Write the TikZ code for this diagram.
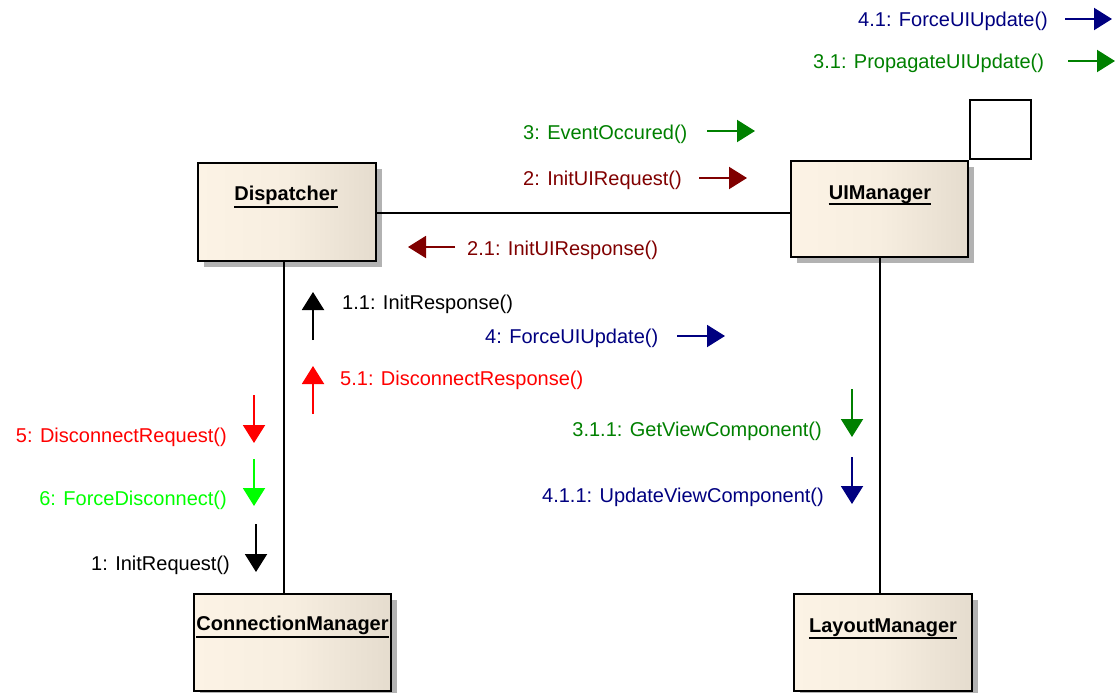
\documentclass[tikz,border=0pt]{standalone}
\usepackage{fontspec}
\setmainfont{Liberation Sans}
\usetikzlibrary{arrows.meta,shadows}

\definecolor{boxL}{RGB}{252,243,229}
\definecolor{boxM}{RGB}{247,238,224}
\definecolor{boxR}{RGB}{229,220,206}
\definecolor{msgGreen}{RGB}{0,128,0}
\definecolor{msgMaroon}{RGB}{128,0,0}
\definecolor{msgNavy}{RGB}{0,0,128}
\definecolor{msgRed}{RGB}{255,0,0}
\definecolor{msgLime}{RGB}{0,255,0}

\tikzset{
  objbox/.style={draw=black, line width=2.2pt, rectangle, inner sep=0pt,
    left color=boxL, right color=boxR, middle color=boxM,
    drop shadow={shadow xshift=6pt, shadow yshift=-6pt, fill=black!30, opacity=1}},
  objname/.style={font=\fontsize{20}{24}\selectfont\bfseries, inner sep=0pt, anchor=base},
  uline/.style={line width=1.6pt},
  lifeline/.style={line width=2pt},
  msgtext/.style={font=\fontsize{20}{24}\selectfont, inner sep=0pt, yshift=-2pt},
  msg/.style={line width=2pt, -{Triangle[length=18pt,width=22pt]}},
}

\begin{document}
\begin{tikzpicture}[x=1pt,y=-1pt]
\useasboundingbox (0,0) rectangle (1120,693);

% objects
\node[objbox, minimum width=178pt, minimum height=98pt] (disp) at (287,212) {};
\node[objbox, minimum width=177pt, minimum height=96pt] (uim) at (879.5,209) {};
\node[draw=black, line width=2pt, minimum width=61pt, minimum height=59pt,
      inner sep=0pt, anchor=south west, fill=white] (corner) at (uim.north east) {};
\node[objbox, minimum width=197pt, minimum height=97pt] (conn) at (292.5,642.5) {};
\node[objbox, minimum width=178pt, minimum height=97pt] (lay) at (883,642.5) {};

% object names, underlined
\node[objname] (dispT) at (286,200) {Dispatcher};
\draw[uline] ([yshift=-7pt]dispT.base west) -- ([yshift=-7pt]dispT.base east);
\node[objname] (uimT) at (880,199) {UIManager};
\draw[uline] ([yshift=-5pt]uimT.base west) -- ([yshift=-5pt]uimT.base east);
\node[objname] (connT) at (292.5,630) {ConnectionManager};
\draw[uline] ([yshift=-7pt]connT.base west) -- ([yshift=-7pt]connT.base east);
\node[objname] (layT) at (883,632) {LayoutManager};
\draw[uline] ([yshift=-6pt]layT.base west) -- ([yshift=-6pt]layT.base east);

% links between objects
\draw[lifeline] (disp.east |- 0,213) -- (uim.west |- 0,213);
\draw[lifeline] (disp.south -| 284,0) -- (conn.north -| 284,0);
\draw[lifeline] (uim.south -| 880,0) -- (lay.north -| 880,0);

% messages along the Dispatcher -- UIManager link
\node[msgtext, text=msgNavy, anchor=west] (m41) at (858,19) {4.1: ForceUIUpdate()};
\draw[msg, msgNavy] (1065,19) -- (1112,19);
\node[msgtext, text=msgGreen, anchor=west] (m31) at (813,61) {3.1: PropagateUIUpdate()};
\draw[msg, msgGreen] (1068,61) -- (1115,61);
\node[msgtext, text=msgGreen, anchor=west] (m3) at (523,132) {3: EventOccured()};
\draw[msg, msgGreen] (707,131) -- (755,131);
\node[msgtext, text=msgMaroon, anchor=west] (m2) at (523,178) {2: InitUIRequest()};
\draw[msg, msgMaroon] (699,178) -- (747,178);
\node[msgtext, text=msgMaroon, anchor=west] (m21) at (467,248) {2.1: InitUIResponse()};
\draw[msg, msgMaroon] (455,247) -- (408,247);
\node[msgtext, text=msgNavy, anchor=west] (m4) at (485,336) {4: ForceUIUpdate()};
\draw[msg, msgNavy] (677,336) -- (725,336);

% messages along the Dispatcher -- ConnectionManager link
\node[msgtext, text=black, anchor=west] (m11) at (342,302) {1.1: InitResponse()};
\draw[msg, black] (313,340) -- (313,292);
\node[msgtext, text=msgRed, anchor=west] (m51) at (340,378) {5.1: DisconnectResponse()};
\draw[msg, msgRed] (313,414) -- (313,366);
\node[msgtext, text=msgRed, anchor=east] (m5) at (227,435) {5: DisconnectRequest()};
\draw[msg, msgRed] (254,395) -- (254,443);
\node[msgtext, text=msgLime, anchor=east] (m6) at (227,498) {6: ForceDisconnect()};
\draw[msg, msgLime] (254,459) -- (254,506);
\node[msgtext, text=black, anchor=east] (m1) at (230,563) {1: InitRequest()};
\draw[msg, black] (256,524) -- (256,572);

% messages along the UIManager -- LayoutManager link
\node[msgtext, text=msgGreen, anchor=east] (m311) at (822,429) {3.1.1: GetViewComponent()};
\draw[msg, msgGreen] (852,389) -- (852,437);
\node[msgtext, text=msgNavy, anchor=east] (m411) at (824,495) {4.1.1: UpdateViewComponent()};
\draw[msg, msgNavy] (852,457) -- (852,504);
\end{tikzpicture}
\end{document}
